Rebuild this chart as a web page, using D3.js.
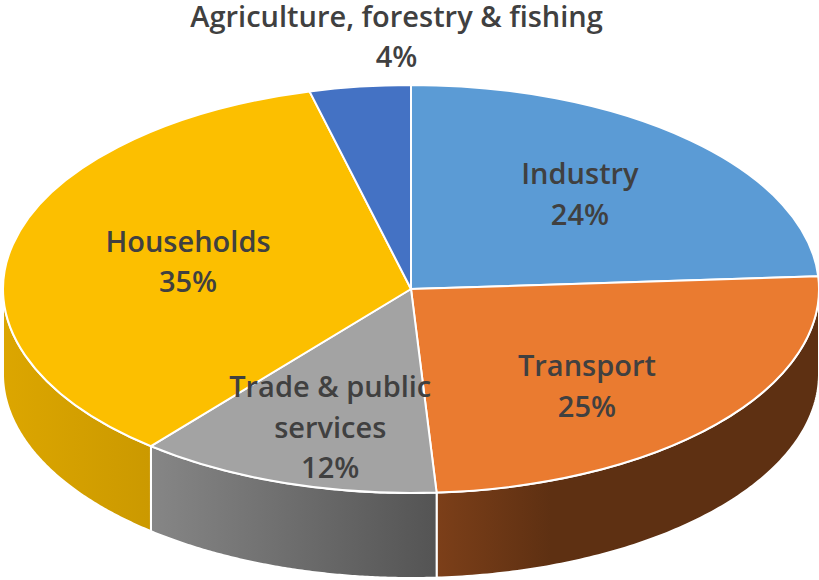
<!DOCTYPE html>
<html>
<head>
<meta charset="utf-8">
<style>
  html, body { margin: 0; padding: 0; background: #fff; }
  svg { display: block; }
  text { font-family: "Open Sans", sans-serif; font-weight: 600; fill: #404040; font-size: 29px; text-anchor: middle; }
</style>
<script src="https://cdn.jsdelivr.net/npm/d3@7"></script>
</head>
<body>
<svg id="chart" width="819" height="580"></svg>
<script>
// Share of energy use by sector, clockwise from twelve o'clock
const sectors = ["Industry", "Transport", "Trade & public services", "Households", "Agriculture, forestry & fishing"];
const shares = [24, 25, 12, 35, 4];
const labelLines = [["Industry"], ["Transport"], ["Trade & public", "services"], ["Households"], ["Agriculture, forestry & fishing"]];
const topColors = ["#5b9bd5", "#ea7b30", "#a3a3a3", "#fcbf00", "#4472c4"];
const wallStops = [null, ["#7c3f19", "#5e3012"], ["#868686", "#545454"], ["#dca600", "#cb9900"], null];

// Disc geometry: a flattened circle with a thick rim
const cx = 411, cy = 289, rx = 408, ry = 204, depth = 85;
// Label placement relative to each slice: radial factor, then a small shift in px
const labelRadius = [0.63, 0.65, 0.72, 0.56, 1.24];
const labelShift = [[-7, -1], [-23, 10], [10, -1], [0, -2], [49, -1]];
const lineHeight = 40.5;

const svg = d3.select("#chart");
const defs = svg.append("defs");

const pie = d3.pie().sort(null).value(d => d);
const slices = pie(shares);

const rimX = t => cx + rx * Math.sin(t);
const rimY = t => cy - ry * Math.cos(t);

// Front wall: only the part of the rim between 3 and 9 o'clock faces the viewer
const wall = svg.append("g");
slices.forEach((s, i) => {
  const a0 = Math.max(s.startAngle, Math.PI / 2);
  const a1 = Math.min(s.endAngle, 3 * Math.PI / 2);
  if (a1 <= a0 || !wallStops[i]) return;
  const ts = d3.range(0, 121).map(k => a0 + (a1 - a0) * k / 120);
  const outline = ts.map(t => [rimX(t), rimY(t)])
    .concat(ts.slice().reverse().map(t => [rimX(t), rimY(t) + depth]));
  const xs = outline.map(p => p[0]);
  const id = "wall" + i;
  const grad = defs.append("linearGradient").attr("id", id)
    .attr("gradientUnits", "userSpaceOnUse")
    .attr("x1", d3.min(xs)).attr("x2", d3.max(xs)).attr("y1", 0).attr("y2", 0);
  // The rim's lighter end is always its left edge
  grad.append("stop").attr("offset", 0).attr("stop-color", wallStops[i][0]);
  grad.append("stop").attr("offset", i === 1 ? 0.3 : 1).attr("stop-color", wallStops[i][1]);
  wall.append("path")
    .attr("d", d3.line()(outline) + "Z")
    .attr("fill", `url(#${id})`)
    .attr("stroke", "#fff").attr("stroke-width", 2).attr("stroke-linejoin", "round");
});

// Top face: an ordinary pie squashed vertically
const arc = d3.arc().innerRadius(0).outerRadius(rx);
svg.append("g")
  .attr("transform", `translate(${cx},${cy}) scale(1,${ry / rx})`)
  .selectAll("path")
  .data(slices)
  .join("path")
  .attr("d", arc)
  .attr("fill", (d, i) => topColors[i])
  .attr("stroke", "#fff")
  .attr("stroke-width", 2)
  .attr("vector-effect", "non-scaling-stroke")
  .attr("stroke-linejoin", "round");

// Labels: name lines followed by the percentage
const labels = svg.append("g");
slices.forEach((s, i) => {
  const mid = (s.startAngle + s.endAngle) / 2;
  const x = cx + rx * labelRadius[i] * Math.sin(mid) + labelShift[i][0];
  const y = cy - ry * labelRadius[i] * Math.cos(mid) + labelShift[i][1];
  const lines = labelLines[i].concat(d3.format("d")(s.value) + "%");
  const t = labels.append("text").attr("aria-label", sectors[i]);
  lines.forEach((line, k) => {
    t.append("tspan").attr("x", x)
      .attr("y", y + (k - (lines.length - 1) / 2) * lineHeight + 10)
      .text(line);
  });
});
</script>
</body>
</html>
